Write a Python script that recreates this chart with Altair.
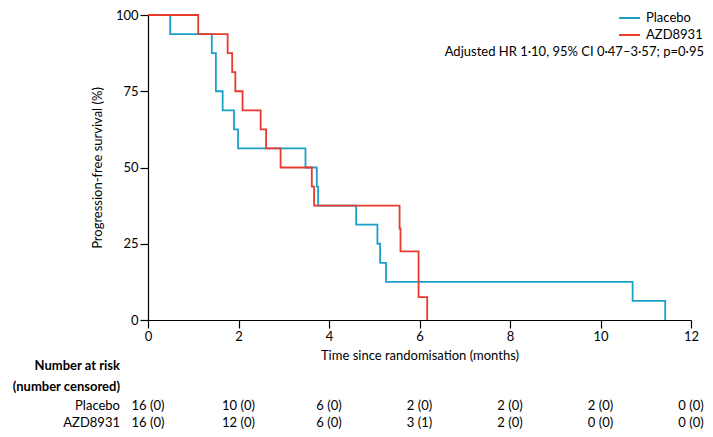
import altair as alt
import pandas as pd

# Kaplan-Meier step data
placebo_time = [0, 0.49, 1.41, 1.50, 1.65, 1.90, 1.99, 3.48, 3.73, 3.76, 4.60, 5.07, 5.13, 5.26, 10.71, 11.43]
placebo_surv = [100, 93.75, 87.5, 75, 68.75, 62.5, 56.25, 50, 43.75, 37.5, 31.25, 25, 18.75, 12.5, 6.25, 0]
azd_time = [0, 1.11, 1.76, 1.86, 1.93, 2.09, 2.49, 2.61, 2.93, 3.62, 3.67, 5.56, 5.58, 5.98, 6.17]
azd_surv = [100, 93.75, 87.5, 81.25, 75, 68.75, 62.5, 56.25, 50, 43.75, 37.5, 30, 22.5, 7.5, 0]

series = ["Placebo", "AZD8931"]
colors = ["#1ba1c9", "#ea3a2e"]

risk_times = [0, 2, 4, 6, 8, 10, 12]
placebo_risk = ["16 (0)", "10 (0)", "6 (0)", "2 (0)", "2 (0)", "2 (0)", "0 (0)"]
azd_risk = ["16 (0)", "12 (0)", "6 (0)", "3 (1)", "2 (0)", "0 (0)", "0 (0)"]

x_ticks = [0, 2, 4, 6, 8, 10, 12]
y_ticks = [0, 25, 50, 75, 100]
hr_text = "Adjusted HR 1·10, 95% CI 0·47–3·57; p=0·95"

FONT = "Lato"
FS = 13

curve_df = pd.DataFrame(
    [{"series": "Placebo", "t": t, "s": s, "i": i} for i, (t, s) in enumerate(zip(placebo_time, placebo_surv))]
    + [{"series": "AZD8931", "t": t, "s": s, "i": i} for i, (t, s) in enumerate(zip(azd_time, azd_surv))]
)
risk_df = pd.DataFrame(
    [{"row": "Placebo", "t": t, "label": l} for t, l in zip(risk_times, placebo_risk)]
    + [{"row": "AZD8931", "t": t, "label": l} for t, l in zip(risk_times, azd_risk)]
)

xscale = alt.Scale(domain=[0, 12], nice=False)
yscale = alt.Scale(domain=[0, 100], nice=False)
cscale = alt.Scale(domain=series, range=colors)

xaxis = alt.Axis(values=x_ticks, title="Time since randomisation (months)", tickSize=8,
                 labelPadding=2, titlePadding=6, labelFlush=False, format="d")
yaxis = alt.Axis(values=y_ticks, title="Progression-free survival (%)", tickSize=8,
                 labelPadding=2, titlePadding=11, labelFlush=False, format="d")

lines = alt.Chart(curve_df).mark_line(interpolate="step-after", strokeWidth=1.8).encode(
    x=alt.X("t:Q", scale=xscale, axis=xaxis),
    y=alt.Y("s:Q", scale=yscale, axis=yaxis),
    color=alt.Color("series:N", scale=cscale, legend=None),
    order=alt.Order("i:Q"),
)

layers = [lines]

# legend
for k, name in enumerate(series):
    yy = 3 + 17 * k
    layers.append(alt.Chart(pd.DataFrame({"series": [name]})).mark_rule(strokeWidth=2).encode(
        x=alt.value(471), x2=alt.value(492), y=alt.value(yy),
        color=alt.Color("series:N", scale=cscale, legend=None)))
    layers.append(alt.Chart(pd.DataFrame({"series": [name]})).mark_text(
        align="left", baseline="middle", font=FONT, fontSize=FS, color="black").encode(
        x=alt.value(498), y=alt.value(yy), text="series:N"))

layers.append(alt.Chart(pd.DataFrame({"txt": [hr_text]})).mark_text(
    align="right", baseline="middle", font=FONT, fontSize=FS, color="black").encode(
    x=alt.value(556), y=alt.value(37), text="txt:N"))

# number at risk table
row_y = {"Placebo": 391, "AZD8931": 408}
for name in series:
    sub = risk_df[risk_df["row"] == name]
    layers.append(alt.Chart(sub).mark_text(
        align="center", baseline="middle", font=FONT, fontSize=FS, color="black").encode(
        x=alt.X("t:Q", scale=xscale, axis=xaxis), y=alt.value(row_y[name]), text="label:N"))
    layers.append(alt.Chart(pd.DataFrame({"txt": [name]})).mark_text(
        align="right", baseline="middle", font=FONT, fontSize=FS, color="black").encode(
        x=alt.value(-28), y=alt.value(row_y[name]), text="txt:N"))

for txt, yy in [("Number at risk", 351), ("(number censored)", 372)]:
    layers.append(alt.Chart(pd.DataFrame({"txt": [txt]})).mark_text(
        align="right", baseline="middle", font=FONT, fontSize=FS, fontWeight="bold", color="black").encode(
        x=alt.value(-28), y=alt.value(yy), text="txt:N"))

chart = alt.layer(*layers).properties(
    width=543, height=305,
    autosize=alt.AutoSizeParams(type="none"),
    padding={"left": 140, "top": 7, "right": 14, "bottom": 109},
).configure_view(stroke=None).configure_axis(
    grid=False, domainColor="black", tickColor="black", domainWidth=1.2, tickWidth=1.2,
    labelFont=FONT, labelFontSize=FS, labelColor="black",
    titleFont=FONT, titleFontSize=FS, titleFontWeight="normal", titleColor="black",
)

chart.save("out.html", embed_options={"renderer": "svg", "actions": False})
